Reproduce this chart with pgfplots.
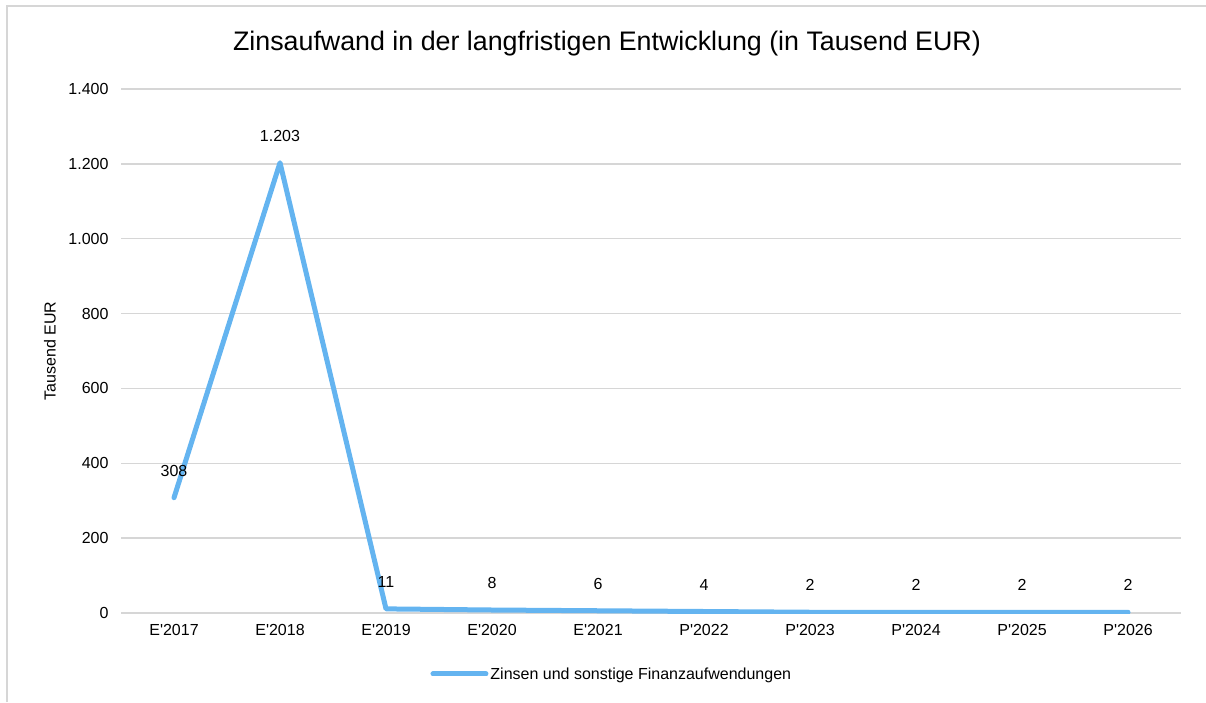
\documentclass[border=0pt]{standalone}
\usepackage{fontspec}
\setmainfont{Liberation Sans}
\usepackage{pgfplots}
\pgfplotsset{compat=1.18}
\definecolor{linecol}{RGB}{100,180,240}
\definecolor{gridcol}{RGB}{214,214,214}
\begin{document}
\begin{tikzpicture}[x=1pt,y=1pt]
\useasboundingbox (0,0) rectangle (1206,702);
\draw[gridcol, line width=1.5pt] (7,0) -- (7,696) -- (1206,696);
\node[font=\fontsize{26.8}{30}\selectfont, anchor=center] at (607,658) {Zinsaufwand in der langfristigen Entwicklung (in Tausend EUR)};
\begin{axis}[
  at={(121pt,89pt)}, anchor=south west,
  scale only axis, width=1060pt, height=524pt,
  xmin=-0.5, xmax=9.5, ymin=0, ymax=1400,
  ytick={0,200,...,1400},
  xtick={0,...,9},
  xticklabels={E\textquotesingle 2017,E\textquotesingle 2018,E\textquotesingle 2019,E\textquotesingle 2020,E\textquotesingle 2021,P\textquotesingle 2022,P\textquotesingle 2023,P\textquotesingle 2024,P\textquotesingle 2025,P\textquotesingle 2026},
  axis line style={draw=none},
  major tick length=0pt,
  ymajorgrids, grid style={gridcol, line width=1.5pt},
  /pgf/number format/.cd, use comma, 1000 sep={.}, assume math mode=true,
  /pgfplots/.cd,
  tick label style={font=\fontsize{16}{19}\selectfont, text=black},
  yticklabel style={xshift=-9pt},
  xticklabel style={yshift=-8pt},
  ylabel={Tausend EUR},
  every axis y label/.style={at={(axis description cs:-0.067,0.5)}, rotate=90, anchor=center, font=\fontsize{16}{19}\selectfont},
  legend style={at={(axis description cs:0.463,-0.1164)}, anchor=center, draw=none, font=\fontsize{16}{19}\selectfont, fill=none},
  legend image code/.code={\draw[#1, line width=5pt, line cap=round] (0pt,0pt) -- (53pt,0pt);},
  nodes near coords,
  every node near coord/.append style={anchor=center, yshift=27pt, font=\fontsize{16}{19}\selectfont, text=black},
]
\addplot[linecol, line width=5pt, line join=round, line cap=round, mark=none] coordinates {
(0,308) (1,1203) (2,11) (3,8) (4,6) (5,4) (6,2) (7,2) (8,2) (9,2)
};
\addlegendentry{Zinsen und sonstige Finanzaufwendungen}
\end{axis}
\end{tikzpicture}
\end{document}
